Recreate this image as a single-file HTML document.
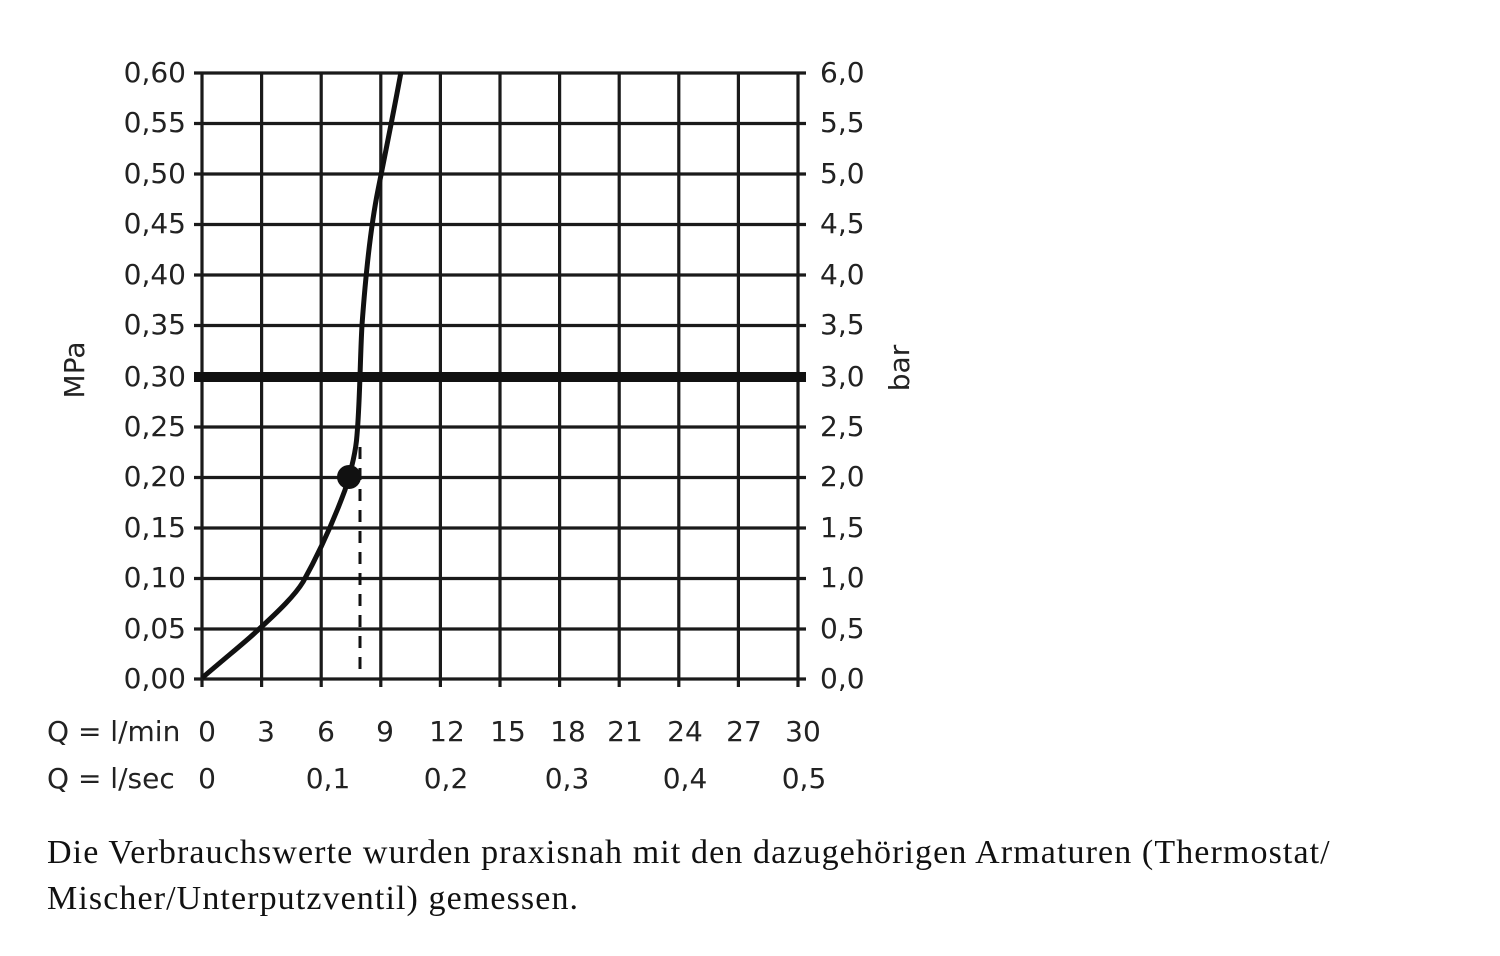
<!DOCTYPE html>
<html><head><style>
body{margin:0;background:#fff;width:1500px;height:956px;overflow:hidden}
svg{position:absolute;left:0;top:0}
.t{font-family:"DejaVu Sans","Liberation Sans",sans-serif;font-size:28px;fill:#222}
.p{position:absolute;left:47px;top:830px;font-family:"Liberation Serif",serif;font-size:34px;letter-spacing:1.1px;line-height:46px;color:#111;width:1440px;white-space:nowrap}
</style></head><body>
<svg width="1500" height="956">
<g stroke="#1a1a1a" stroke-width="3.2" fill="none">
<path d="M202 73V679M261.6 73V679M321.2 73V679M380.8 73V679M440.4 73V679M500 73V679M559.6 73V679M619.2 73V679M678.8 73V679M738.4 73V679M798 73V679"/>
<path d="M194 73H806M194 123.5H806M194 174H806M194 224.5H806M194 275H806M194 325.5H806M194 427H806M194 477.5H806M194 528H806M194 578.5H806M194 629H806M194 679H806"/>
<path d="M202 679v8M261.6 679v8M321.2 679v8M380.8 679v8M440.4 679v8M500 679v8M559.6 679v8M619.2 679v8M678.8 679v8M738.4 679v8M798 679v8"/>
</g>
<path d="M194 377H806" stroke="#111" stroke-width="10"/>
<path d="M360 447V675" stroke="#111" stroke-width="3" stroke-dasharray="12,9"/>
<path d="M202 678 C230 654,250 638,258 630 C280 610,295 595,303 582 C318 555,332 525,345 490 C352 468,356 450,357 435 C360 400,360 360,362 325 C366 270,372 220,378 190 C386 150,395 105,401 72" stroke="#111" stroke-width="5" fill="none"/>
<circle cx="349" cy="477" r="12" fill="#111"/>
<g class="t" text-anchor="end">
<text x="186" y="82">0,60</text><text x="186" y="132">0,55</text><text x="186" y="183">0,50</text><text x="186" y="233">0,45</text><text x="186" y="284">0,40</text><text x="186" y="334">0,35</text><text x="186" y="386">0,30</text><text x="186" y="436">0,25</text><text x="186" y="486">0,20</text><text x="186" y="537">0,15</text><text x="186" y="587">0,10</text><text x="186" y="638">0,05</text><text x="186" y="688">0,00</text>
</g>
<g class="t">
<text x="820" y="82">6,0</text><text x="820" y="132">5,5</text><text x="820" y="183">5,0</text><text x="820" y="233">4,5</text><text x="820" y="284">4,0</text><text x="820" y="334">3,5</text><text x="820" y="386">3,0</text><text x="820" y="436">2,5</text><text x="820" y="486">2,0</text><text x="820" y="537">1,5</text><text x="820" y="587">1,0</text><text x="820" y="638">0,5</text><text x="820" y="688">0,0</text>
<text x="47" y="741">Q = l/min</text><text x="47" y="788">Q = l/sec</text>
</g>
<g class="t" text-anchor="middle">
<text x="207" y="741">0</text><text x="266" y="741">3</text><text x="326" y="741">6</text><text x="385" y="741">9</text><text x="447" y="741">12</text><text x="508" y="741">15</text><text x="568" y="741">18</text><text x="625" y="741">21</text><text x="685" y="741">24</text><text x="744" y="741">27</text><text x="803" y="741">30</text>
<text x="207" y="788">0</text><text x="328" y="788">0,1</text><text x="446" y="788">0,2</text><text x="567" y="788">0,3</text><text x="685" y="788">0,4</text><text x="804" y="788">0,5</text>
<text transform="translate(84,370) rotate(-90)">MPa</text>
<text transform="translate(909,368) rotate(-90)">bar</text>
</g>
</svg>
<div class="p">Die Verbrauchswerte wurden praxisnah mit den dazugehörigen Armaturen (Thermostat/<br>Mischer/Unterputzventil) gemessen.</div>
</body></html>
